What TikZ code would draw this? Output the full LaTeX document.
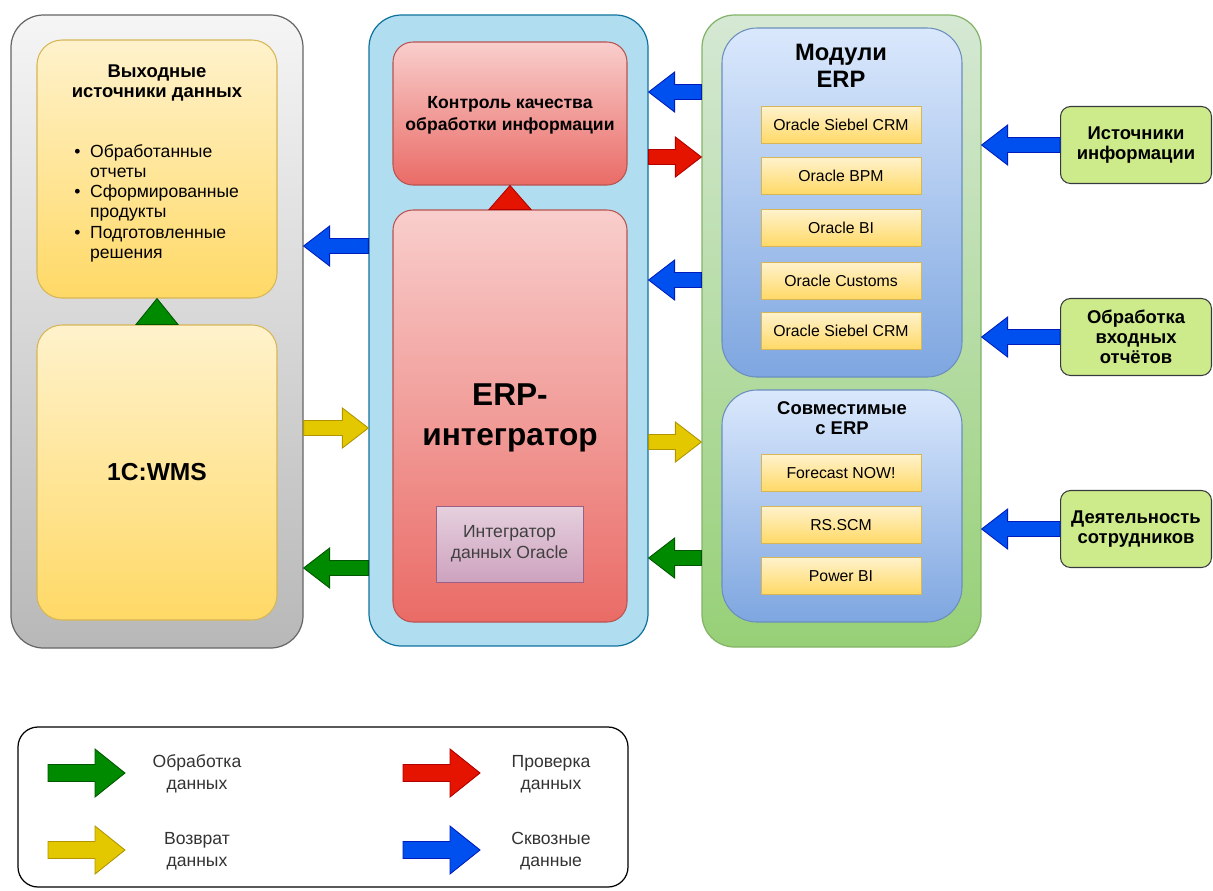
\documentclass[tikz,border=0pt]{standalone}
\usepackage{fontspec}
\setmainfont{Liberation Sans}
\usetikzlibrary{calc,fit}

% column and box colours
\definecolor{grayTop}{HTML}{F5F5F5}
\definecolor{grayBot}{HTML}{B8B8B8}
\definecolor{grayLine}{HTML}{666666}
\definecolor{yelTop}{HTML}{FFF2CC}
\definecolor{yelBot}{HTML}{FFD966}
\definecolor{yelLine}{HTML}{D6B656}
\definecolor{skyFill}{HTML}{B1DDF0}
\definecolor{skyLine}{HTML}{10739E}
\definecolor{redTop}{HTML}{F8CECC}
\definecolor{redBot}{HTML}{EA6B66}
\definecolor{redLine}{HTML}{B85450}
\definecolor{purTop}{HTML}{E6D0DE}
\definecolor{purBot}{HTML}{CDA2BE}
\definecolor{purLine}{HTML}{996185}
\definecolor{grnTop}{HTML}{D5E8D4}
\definecolor{grnBot}{HTML}{97D077}
\definecolor{grnLine}{HTML}{82B366}
\definecolor{bluTop}{HTML}{DAE8FC}
\definecolor{bluBot}{HTML}{7EA6E0}
\definecolor{bluLine}{HTML}{6C8EBF}
\definecolor{limeFill}{HTML}{CDEB8B}
\definecolor{limeLine}{HTML}{36393D}
% arrow colours
\definecolor{arrGreen}{HTML}{008A00}
\definecolor{arrGreenD}{HTML}{005700}
\definecolor{arrRed}{HTML}{E51400}
\definecolor{arrRedD}{HTML}{B20000}
\definecolor{arrYel}{HTML}{E3C800}
\definecolor{arrYelD}{HTML}{B09500}
\definecolor{arrBlue}{HTML}{0050EF}
\definecolor{arrBlueD}{HTML}{001DBC}

\tikzset{
  colpanel/.style={draw, rounded corners=0.65cm, inner sep=0pt, line width=0.7pt},
  ybox/.style={draw=yelLine, top color=yelTop, bottom color=yelBot,
    rounded corners=0.5cm, inner sep=0pt, line width=0.6pt},
  rbox/.style={draw=redLine, top color=redTop, bottom color=redBot,
    rounded corners=0.4cm, inner sep=0pt, line width=0.6pt},
  modbox/.style={draw=bluLine, top color=bluTop, bottom color=bluBot,
    rounded corners=0.7cm, inner sep=0pt, line width=0.6pt},
  itembox/.style={draw=yelLine, top color=yelTop, bottom color=yelBot,
    minimum width=3.2cm, minimum height=0.74cm, inner sep=0pt, line width=0.5pt,
    font=\fontsize{9}{11}\selectfont},
  srcbox/.style={draw=limeLine, fill=limeFill, rounded corners=0.2cm,
    minimum width=3.02cm, minimum height=1.54cm, inner sep=0pt, align=center,
    line width=0.6pt, font=\bfseries\fontsize{10.5}{11.5}\selectfont},
  ttl/.style={align=center, font=\bfseries\fontsize{10.5}{11.5}\selectfont},
  legtext/.style={align=center, text=black!80, font=\fontsize{10}{12.5}\selectfont},
  grnarr/.style={fill=arrGreen, draw=arrGreenD, line width=0.5pt},
  redarr/.style={fill=arrRed, draw=arrRedD, line width=0.5pt},
  yelarr/.style={fill=arrYel, draw=arrYelD, line width=0.5pt},
  bluearr/.style={fill=arrBlue, draw=arrBlueD, line width=0.5pt},
}

% flat block arrow from #2 to #3
\newcommand\shafthw{0.15cm}
\newcommand\headhw{0.4cm}
\newcommand\headlen{0.52cm}
\newcommand\flexarrow[3]{%
  \path (#2) coordinate (fa-s) (#3) coordinate (fa-t);
  \path ($(fa-t)!\headlen!(fa-s)$) coordinate (fa-n);
  \filldraw[#1] ($(fa-s)!\shafthw!90:(fa-t)$) -- ($(fa-n)!\shafthw!90:(fa-t)$)
    -- ($(fa-n)!\headhw!90:(fa-t)$) -- (fa-t) -- ($(fa-n)!\headhw!-90:(fa-t)$)
    -- ($(fa-n)!\shafthw!-90:(fa-t)$) -- ($(fa-s)!\shafthw!-90:(fa-t)$) -- cycle;
}
\newcommand\lstbul{\makebox[9pt][l]{\textbullet}}
\newcommand\lstgap{\hspace*{9pt}}

\begin{document}
\begin{tikzpicture}[x=0.02cm, y=-0.02cm]
  \useasboundingbox (0,0) rectangle (1213,890);

  % Three columns
  \node[colpanel, fit={(11,15) (303,648)}, draw=grayLine, top color=grayTop, bottom color=grayBot] (out) {};
  \node[colpanel, fit={(369,15) (648,646)}, draw=skyLine, fill=skyFill] (erp) {};
  \node[colpanel, fit={(702,15) (981,647)}, draw=grnLine, top color=grnTop, bottom color=grnBot] (sys) {};

  % Left column
  \node[ybox, fit={(37,40) (277,298)}] (res) {};
  \node[ybox, fit={(37,325) (277,620)}] (wms) {};
  \node[ttl] (res-title) at (157,83) {Выходные\\источники данных};
  \node[anchor=north west, inner sep=0pt, align=left, font=\fontsize{10}{11.5}\selectfont] (res-list) at (74,144)
    {\lstbul Обработанные\\\lstgap отчеты\\\lstbul Сформированные\\\lstgap продукты\\\lstbul Подготовленные\\\lstgap решения};
  \node[font=\bfseries\fontsize{14}{16}\selectfont] (wms-label) at (157,472) {1C:WMS};
  \filldraw[grnarr] ($(wms.north)+(-21,0)$) -- (res.south) -- ($(wms.north)+(21,0)$) -- cycle;

  % Middle column
  \node[rbox, fit={(393,42) (627,185)}] (ctrl) {};
  \node[rbox, fit={(393,210) (627,622)}] (integ) {};
  \node[ttl, font=\bfseries\fontsize{10}{12.5}\selectfont] (ctrl-title) at (510,115) {Контроль качества\\обработки информации};
  \node[align=center, font=\bfseries\fontsize{18}{22.7}\selectfont] (integ-title) at (510,418) {ERP-\\интегратор};
  \node[draw=purLine, top color=purTop, bottom color=purBot, line width=0.5pt,
    minimum width=2.94cm, minimum height=1.52cm, align=center,
    font=\fontsize{10}{12}\selectfont, text=black!75] (oracle) at (509.5,544) {Интегратор\\данных Oracle};
  \filldraw[redarr] ($(integ.north)+(-21,0)$) -- (ctrl.south) -- ($(integ.north)+(21,0)$) -- cycle;

  % Right column
  \node[modbox, fit={(722,28) (962,377)}] (mods) {};
  \node[modbox, fit={(722,390) (962,622)}] (compat) {};
  \node[ttl, font=\bfseries\fontsize{13.5}{15.3}\selectfont] (mods-title) at (841,66) {Модули\\ERP};
  \node[ttl] (compat-title) at (842,418) {Совместимые\\с ERP};
  \foreach \lbl/\y [count=\i] in {Oracle Siebel CRM/125, Oracle BPM/176, Oracle BI/228,
      Oracle Customs/281, Oracle Siebel CRM/331}
    \node[itembox] (mod-\i) at (841,\y) {\lbl};
  \foreach \lbl/\y [count=\i] in {Forecast NOW!/473, RS.SCM/525, Power BI/576}
    \node[itembox] (tool-\i) at (841,\y) {\lbl};

  % Inputs on the right
  \node[srcbox] (in-1) at (1136,145) {Источники\\информации};
  \node[srcbox] (in-2) at (1136,337) {Обработка\\входных\\отчётов};
  \node[srcbox] (in-3) at (1136,529) {Деятельность\\сотрудников};
  \foreach \i in {1,2,3}{
    \flexarrow{bluearr}{in-\i.west}{sys.east |- in-\i.west}
  }

  % Arrows between the columns
  \foreach \a/\b/\y/\c in {erp.west/out.east/246/bluearr, out.east/erp.west/428/yelarr,
      erp.west/out.east/568/grnarr, sys.west/erp.east/92/bluearr,
      erp.east/sys.west/157/redarr, sys.west/erp.east/280/bluearr,
      erp.east/sys.west/442/yelarr, sys.west/erp.east/558/grnarr}{
    \flexarrow{\c}{\a |- 0,\y}{\b |- 0,\y}
  }

  % Legend
  \node[draw=black, line width=0.7pt, rounded corners=0.4cm, inner sep=0pt, fit={(18,727) (628,887)}] (legend) {};
  \begin{scope}
    \renewcommand\shafthw{0.17cm}
    \renewcommand\headhw{0.48cm}
    \renewcommand\headlen{0.6cm}
    \coordinate (lg-1a) at (48,773);  \coordinate (lg-1b) at (125,773);
    \coordinate (lg-2a) at (403,773); \coordinate (lg-2b) at (480,773);
    \coordinate (lg-3a) at (48,850);  \coordinate (lg-3b) at (125,850);
    \coordinate (lg-4a) at (403,850); \coordinate (lg-4b) at (480,850);
    \flexarrow{grnarr}{lg-1a}{lg-1b}
    \flexarrow{redarr}{lg-2a}{lg-2b}
    \flexarrow{yelarr}{lg-3a}{lg-3b}
    \flexarrow{bluearr}{lg-4a}{lg-4b}
  \end{scope}
  \node[legtext] (lg-proc) at (197,774) {Обработка\\данных};
  \node[legtext] (lg-check) at (551,774) {Проверка\\данных};
  \node[legtext] (lg-back) at (197,851) {Возврат\\данных};
  \node[legtext] (lg-thru) at (551,851) {Сквозные\\данные};
\end{tikzpicture}
\end{document}
